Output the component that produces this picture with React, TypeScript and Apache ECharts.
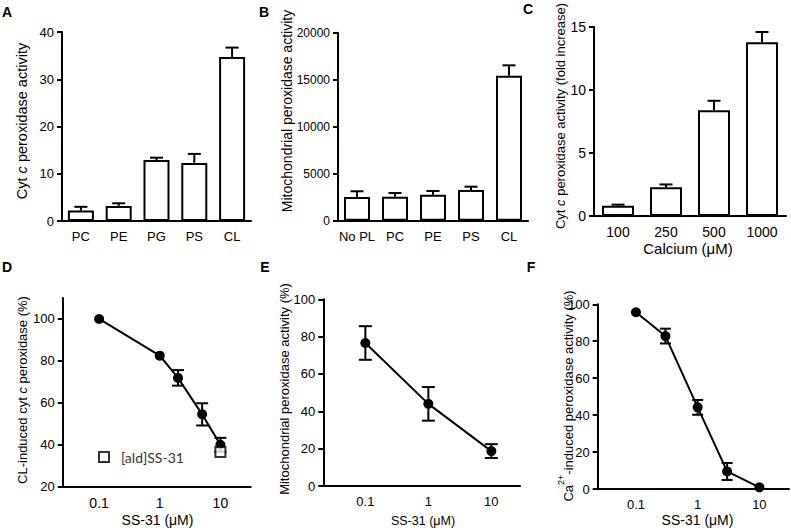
import React, { useEffect, useRef } from 'react';
import * as echarts from 'echarts';

// ---- Data ----
const lipidsA = ['PC', 'PE', 'PG', 'PS', 'CL'];
const activityA = [2.2, 3.2, 12.9, 12.3, 34.7];
const errA = [0.8, 0.55, 0.5, 1.9, 2.0];

const lipidsB = ['No PL', 'PC', 'PE', 'PS', 'CL'];
const activityB = [2520, 2550, 2770, 3270, 15430];
const errB = [610, 400, 390, 350, 1100];

const calciumC = ['100', '250', '500', '1000'];
const foldC = [0.82, 2.27, 8.37, 13.76];
const errC = [0.08, 0.23, 0.76, 0.82];

const ssD = [0.1, 1, 2, 5, 10];
const cytD = [100, 82.5, 71.9, 54.5, 40];
const errD = [0, 0, 3.7, 5.3, 3.3];
const aldSsD = [10];
const aldCytD = [36.5];

const ssE = [0.1, 1, 10];
const mitoE = [76.6, 44, 18.7];
const errE = [9, 9, 3.7];

const ssF = [0.1, 0.3, 1, 3, 10];
const caF = [95.7, 82.8, 44.2, 9.5, 0.9];
const errF = [0, 4, 4, 4.6, 0];

const FONT = 'Liberation Sans, Arial, sans-serif';
const BLACK = '#000';

const errRender = (oneSided: boolean, cap: number) => (params: any, api: any) => {
  const x = api.value(0);
  const y = api.value(1);
  const e = api.value(2);
  if (!e) return null;
  const top = api.coord([x, y + e]);
  const bot = api.coord([x, oneSided ? y : y - e]);
  const style = { stroke: BLACK, lineWidth: 2, fill: null };
  const children: any[] = [
    { type: 'line', shape: { x1: top[0], y1: top[1], x2: bot[0], y2: bot[1] }, style },
    { type: 'line', shape: { x1: top[0] - cap / 2, y1: top[1], x2: top[0] + cap / 2, y2: top[1] }, style },
  ];
  if (!oneSided) {
    children.push({ type: 'line', shape: { x1: bot[0] - cap / 2, y1: bot[1], x2: bot[0] + cap / 2, y2: bot[1] }, style });
  }
  return { type: 'group', children };
};

const axisLine = { show: true, lineStyle: { color: BLACK, width: 2 } };

const logFmt = (v: number) => {
  const l = Math.log10(v);
  if (Math.abs(l - Math.round(l)) < 1e-6) {
    const p = Math.round(l);
    return p < 0 ? (Math.pow(10, p)).toFixed(-p) : String(Math.pow(10, p));
  }
  return '';
};

function catX(idx: number, data: string[], size: number) {
  return {
    type: 'category', gridIndex: idx, data, boundaryGap: true,
    axisLine, axisTick: { show: false },
    axisLabel: { color: BLACK, fontFamily: FONT, fontSize: size, margin: 9, interval: 0 },
    splitLine: { show: false },
  };
}
function valY(idx: number, min: number, max: number, interval: number, size: number, extra: any = {}) {
  return {
    type: 'value', gridIndex: idx, min, max, interval,
    axisLine, axisTick: { show: true, length: 5, lineStyle: { color: BLACK, width: 2 }, ...(extra.tick || {}) },
    axisLabel: { color: BLACK, fontFamily: FONT, fontSize: size, margin: 8, formatter: (v: number) => String(v), ...(extra.label || {}) },
    splitLine: { show: false },
  };
}
function logX(idx: number, min: number, max: number, size: number) {
  return {
    type: 'log', logBase: 10, gridIndex: idx, min, max,
    axisLine, axisTick: { show: false },
    axisLabel: { color: BLACK, fontFamily: FONT, fontSize: size, margin: 9, formatter: logFmt, showMinLabel: false, showMaxLabel: false },
    splitLine: { show: false }, minorTick: { show: false },
  };
}

function vText(x: number, y: number, text: string, size: number, rich: any = {}) {
  return {
    type: 'text', x, y, rotation: Math.PI / 2,
    style: {
      text, fill: BLACK, fontFamily: FONT, fontSize: size, align: 'center', verticalAlign: 'middle',
      rich: {
        n: { fontFamily: FONT, fontSize: size, fill: BLACK },
        i: { fontFamily: FONT, fontSize: size, fontStyle: 'italic', fill: BLACK },
        ...rich,
      },
    },
  };
}
function hText(x: number, y: number, text: string, size: number, weight: string = 'normal') {
  return {
    type: 'text', x, y,
    style: { text, fill: BLACK, fontFamily: FONT, fontSize: size, fontWeight: weight, align: 'center', verticalAlign: 'middle' },
  };
}

export default function App() {
  const ref = useRef<HTMLDivElement>(null);
  useEffect(() => {
    if (!ref.current) return;
    const chart = echarts.init(ref.current, undefined, { renderer: 'svg' });
    const barStyle = { color: '#fff', borderColor: BLACK, borderWidth: 2 };
    const lineCommon = {
      type: 'line', symbol: 'circle', symbolSize: 10,
      lineStyle: { color: BLACK, width: 2 }, itemStyle: { color: BLACK }, z: 3,
    };
    const option: any = {
      animation: false,
      backgroundColor: '#fff',
      grid: [
        { left: 62, top: 32, width: 189, height: 189 },
        { left: 338, top: 32.7, width: 190, height: 188 },
        { left: 594, top: 26.7, width: 192, height: 189.3 },
        { left: 62.7, top: 298, width: 188, height: 188.7 },
        { left: 323.3, top: 299.3, width: 196.7, height: 186.7 },
        { left: 597.7, top: 304.3, width: 191.3, height: 184.7 },
      ],
      xAxis: [
        catX(0, lipidsA, 13),
        catX(1, lipidsB, 13),
        catX(2, calciumC, 14),
        logX(3, 0.0251, 31.6, 14),
        logX(4, 0.0215, 28.5, 13),
        logX(5, 0.024, 30.2, 13),
      ],
      yAxis: [
        valY(0, 0, 40, 10, 13),
        valY(1, 0, 20000, 5000, 12),
        valY(2, 0, 15, 5, 14),
        valY(3, 20, 110, 20, 13, {
          tick: { customValues: [20, 40, 60, 80, 100] },
          label: { formatter: (v: number) => (v % 20 === 0 ? String(v) : '') },
        }),
        valY(4, 0, 100, 20, 13),
        valY(5, 0, 100, 20, 13),
      ],
      legend: {
        left: 98, top: 450, padding: 0, itemWidth: 10, itemHeight: 10,
        icon: 'rect',
        data: ['[ald]SS-31'],
        itemStyle: { color: '#fff', borderColor: BLACK, borderWidth: 2 },
        textStyle: { fontFamily: 'Lato, Open Sans, sans-serif', fontSize: 14, color: '#333', padding: [0, 0, 0, 7] },
        selectedMode: false,
      },
      series: [
        { type: 'bar', xAxisIndex: 0, yAxisIndex: 0, data: activityA, barWidth: 26, itemStyle: barStyle },
        { type: 'custom', xAxisIndex: 0, yAxisIndex: 0, renderItem: errRender(true, 13), data: activityA.map((v, i) => [i, v, errA[i]]), z: 1 },
        { type: 'bar', xAxisIndex: 1, yAxisIndex: 1, data: activityB, barWidth: 26, itemStyle: barStyle },
        { type: 'custom', xAxisIndex: 1, yAxisIndex: 1, renderItem: errRender(true, 13), data: activityB.map((v, i) => [i, v, errB[i]]), z: 1 },
        { type: 'bar', xAxisIndex: 2, yAxisIndex: 2, data: foldC, barWidth: 32, itemStyle: barStyle },
        { type: 'custom', xAxisIndex: 2, yAxisIndex: 2, renderItem: errRender(true, 13), data: foldC.map((v, i) => [i, v, errC[i]]), z: 1 },

        { ...lineCommon, name: 'SS-31 D', xAxisIndex: 3, yAxisIndex: 3, data: ssD.map((c, i) => [c, cytD[i]]) },
        { type: 'custom', xAxisIndex: 3, yAxisIndex: 3, renderItem: errRender(false, 12), data: ssD.map((c, i) => [c, cytD[i], errD[i]]), z: 2 },
        {
          type: 'scatter', name: '[ald]SS-31', xAxisIndex: 3, yAxisIndex: 3, symbol: 'rect', symbolSize: 10,
          itemStyle: { color: '#fff', borderColor: BLACK, borderWidth: 2 }, z: 4,
          data: aldSsD.map((c, i) => [c, aldCytD[i]]),
        },

        { ...lineCommon, name: 'SS-31 E', xAxisIndex: 4, yAxisIndex: 4, data: ssE.map((c, i) => [c, mitoE[i]]) },
        { type: 'custom', xAxisIndex: 4, yAxisIndex: 4, renderItem: errRender(false, 13), data: ssE.map((c, i) => [c, mitoE[i], errE[i]]), z: 2 },

        { ...lineCommon, name: 'SS-31 F', xAxisIndex: 5, yAxisIndex: 5, data: ssF.map((c, i) => [c, caF[i]]) },
        { type: 'custom', xAxisIndex: 5, yAxisIndex: 5, renderItem: errRender(false, 11), data: ssF.map((c, i) => [c, caF[i], errF[i]]), z: 2 },
      ],
      graphic: [
        hText(7, 12, 'A', 14, 'bold'),
        hText(264, 12, 'B', 14, 'bold'),
        hText(528, 9, 'C', 14, 'bold'),
        hText(7, 267, 'D', 14, 'bold'),
        hText(265, 267, 'E', 14, 'bold'),
        hText(531, 267, 'F', 14, 'bold'),

        vText(21.5, 121, '{n|Cyt }{i|c}{n| peroxidase activity}', 14.5),
        vText(286.5, 111, '{n|Mitochondrial peroxidase activity}', 14),
        vText(560, 116, '{n|Cyt }{i|c}{n| peroxidase activity (fold increase)}', 13),
        vText(22.5, 390, '{n|CL-induced cyt }{i|c}{n| peroxidase (%)}', 13),
        vText(284.5, 389, '{n|Mitochondrial peroxidase activity (%)}', 13),
        vText(565.5, 396, '{n|Ca}{s|2+}{n|-induced peroxidase activity (%)}', 13, {
          n: { fontFamily: FONT, fontSize: 13, fill: BLACK, lineHeight: 18, verticalAlign: 'bottom' },
          s: { fontFamily: FONT, fontSize: 9, fill: BLACK, lineHeight: 10, verticalAlign: 'top' },
        }),

        hText(688, 248, 'Calcium (\u03bcM)', 15),
        hText(157.5, 520, 'SS-31 (\u03bcM)', 14),
        hText(423, 521, 'SS-31 (\u03bcM)', 12.5),
        hText(697.5, 520, 'SS-31 (\u03bcM)', 14),
      ],
    };
    chart.setOption(option);
    return () => chart.dispose();
  }, []);
  return (
    <div
      ref={ref}
      style={{ position: 'fixed', left: 0, top: 0, width: 791, height: 531, background: '#fff' }}
    />
  );
}
